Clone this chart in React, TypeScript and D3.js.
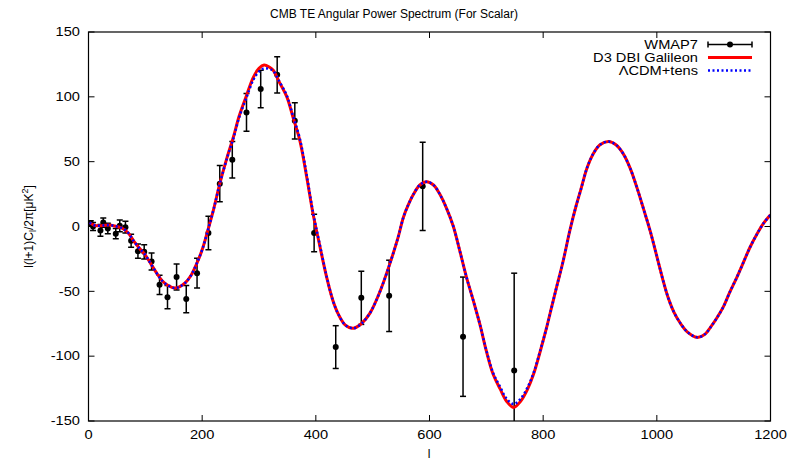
import React from "react";
import * as d3 from "d3";

// ---- data ----
const wmapL = [4, 8, 21, 26, 34, 48, 55, 65, 75, 87, 98, 111, 125, 139, 155, 172, 191, 211, 231, 253, 278, 303, 332, 363, 397, 435, 480, 529, 588, 659, 749];
const wmapTE = [2.4, 0, -3, 3, -1.5, -5.5, 0.5, -0.5, -11, -19, -19.5, -27, -45, -54.5, -39, -56, -36, -5, 33, 51.5, 88, 106, 117, 81.5, -5, -93, -55, -53.5, 31, -85, -111];
const wmapErr = [2, 3, 4.5, 3.5, 4, 4, 4.5, 4.5, 5, 5.5, 5.5, 6.5, 7.5, 9, 10, 10.5, 11.5, 13, 14, 14, 14.5, 14.5, 14, 14, 14.5, 16.5, 20.5, 27.5, 34, 46, 75];

const modelL = [2, 10, 20, 30, 40, 50, 60, 70, 80, 90, 100, 110, 120, 130, 140, 152, 160, 170, 180, 190, 200, 210, 220, 231, 245, 255, 265, 278, 290, 300, 309, 318, 325, 335, 349, 360, 372, 384, 395, 407, 419, 430, 440, 452, 466, 480, 495, 513, 530, 545, 554, 563, 572, 583, 595, 607, 618, 630, 642, 654, 665, 677, 689, 700, 712, 724, 736, 748, 760, 772, 783, 795, 806, 815, 824, 835, 847, 858, 866, 877, 888, 900, 915, 928, 941, 953, 965, 977, 988, 1000, 1010, 1020, 1030, 1042, 1053, 1071, 1085, 1094, 1105, 1117, 1128, 1141, 1152, 1164, 1176, 1187, 1200];
const galileonTE = [3, 1, 0.5, 1, 1, 0, -1.5, -5, -11.5, -17, -22, -29, -36, -42, -45.5, -47.5, -46.5, -43.5, -38, -29, -18, -3, 13, 33, 55, 69, 85, 101, 115, 122, 124.5, 123, 120.5, 112, 100, 84, 66, 38, 10, -15, -39, -57, -68, -76, -78.5, -75, -67, -50, -29, -8, 7, 17, 25, 32, 34.5, 32, 25, 14, 0, -20, -39, -57, -76, -96, -114, -125, -135, -139.5, -135, -126, -114, -96, -78, -62, -46, -27, -3, 16, 28, 45, 56, 63, 65.5, 63, 56, 45, 30, 13, -3, -23, -40, -55, -66, -75, -81, -85.5, -83, -78, -71, -62, -51, -39, -28, -16, -6, 2, 9];
const lcdmTE = [3, 1, 0.5, 1, 1, 0, -1.5, -5, -11.5, -17, -22, -29, -36, -42, -45.5, -47.5, -46.5, -43.5, -38, -29, -18, -3, 13, 33, 54.5, 68, 84, 99.5, 113, 119.5, 122, 121.5, 120, 112.5, 101, 85, 67.5, 39.5, 11, -14, -38.5, -57, -68, -76, -78.5, -75, -67, -50, -29, -8, 7, 17, 25, 32, 34.5, 32, 25, 14, 0, -20, -39, -57, -76, -95.5, -113, -123.5, -133, -137, -133, -124.5, -113, -95.5, -78, -62, -46, -27, -3, 16, 28, 45, 56, 63, 65.5, 63, 56, 45, 30, 13, -3, -23, -40, -55, -66, -75, -81, -85.5, -83, -78, -71, -62, -51, -39, -28, -16, -6, 2, 9];

const xTicks = [0, 200, 400, 600, 800, 1000, 1200];
const yTicks = [-150, -100, -50, 0, 50, 100, 150];

const title = "CMB TE Angular Power Spectrum (For Scalar)";
const legendLabels = ["WMAP7", "D3 DBI Galileon", "\u039BCDM+tens"];

export default function App() {
  const W = 794, H = 464;
  const left = 88.5, right = 770.5, top = 32, bottom = 421;
  const x = d3.scaleLinear().domain([0, 1200]).range([left, right]);
  const y = d3.scaleLinear().domain([-150, 150]).range([bottom, top]);
  const font = "'Liberation Sans', Arial, Helvetica, sans-serif";
  const sx = 1.22;

  const line = d3.line<number>()
    .x((_, i) => x(modelL[i]))
    .y((d) => y(d))
    .curve(d3.curveCatmullRom.alpha(0.5));

  const tickLen = 6;
  const legX1 = 708, legX2 = 752, legTextX = 698;
  const legY = [44.5, 57.5, 70.5];

  return (
    <svg width={W} height={H} style={{ position: "absolute", left: 0, top: 0, background: "#fff" }} fontFamily={font}>
      <defs>
        <clipPath id="plotclip">
          <rect x={left} y={top} width={right - left} height={bottom - top} />
        </clipPath>
      </defs>
      <rect x={0} y={0} width={W} height={H} fill="#fff" />
      {/* title */}
      <text x={394} y={17.5} fontSize={12} textAnchor="middle" fill="#000">{title}</text>

      {/* ticks */}
      {xTicks.map((t) => (
        <g key={"xt" + t}>
          <line x1={x(t)} x2={x(t)} y1={bottom} y2={bottom - tickLen} stroke="#000" strokeWidth={1} />
          <line x1={x(t)} x2={x(t)} y1={top} y2={top + tickLen} stroke="#000" strokeWidth={1} />
          <g transform={`translate(${x(t)},439) scale(${sx},1)`}>
            <text x={0} y={0} fontSize={12} textAnchor="middle" fill="#000">{t}</text>
          </g>
        </g>
      ))}
      {yTicks.map((t) => (
        <g key={"yt" + t}>
          <line x1={left} x2={left + tickLen} y1={y(t)} y2={y(t)} stroke="#000" strokeWidth={1} />
          <line x1={right} x2={right - tickLen} y1={y(t)} y2={y(t)} stroke="#000" strokeWidth={1} />
          <g transform={`translate(80,${y(t) + 4.3}) scale(${sx},1)`}>
            <text x={0} y={0} fontSize={12} textAnchor="end" fill="#000">{t}</text>
          </g>
        </g>
      ))}

      {/* axis labels */}
      <text x={429} y={458} fontSize={12} textAnchor="middle" fill="#000">l</text>
      <text transform={`translate(33,${(top + bottom) / 2}) rotate(-90)`} fontSize={12} textAnchor="middle" fill="#000">
        l(l+1)C<tspan fontSize={9} dy={3}>l</tspan><tspan dy={-3}>/2π[μK</tspan><tspan fontSize={9} dy={-5}>2</tspan><tspan dy={5}>]</tspan>
      </text>

      {/* data */}
      <g clipPath="url(#plotclip)">
        {wmapL.map((l, i) => {
          const cx = x(l);
          const y1 = y(wmapTE[i] + wmapErr[i]);
          const y2 = y(wmapTE[i] - wmapErr[i]);
          return (
            <g key={"w" + i} stroke="#000" strokeWidth={1.5}>
              <line x1={cx} x2={cx} y1={y1} y2={y2} />
              <line x1={cx - 3} x2={cx + 3} y1={y1} y2={y1} />
              <line x1={cx - 3} x2={cx + 3} y1={y2} y2={y2} />
              <circle cx={cx} cy={y(wmapTE[i])} r={3} fill="#000" stroke="none" />
            </g>
          );
        })}
        <path d={line(galileonTE) || ""} fill="none" stroke="#ff0000" strokeWidth={3} />
        <path d={line(lcdmTE) || ""} fill="none" stroke="#0000ff" strokeWidth={2.5} strokeDasharray="2 2.5" />
      </g>

      {/* frame */}
      <rect x={left} y={top} width={right - left} height={bottom - top} fill="none" stroke="#000" strokeWidth={1.2} />

      {/* legend */}
      {legendLabels.map((lab, i) => (
        <g key={"lg" + i} transform={`translate(${legTextX},${legY[i] + 4.3}) scale(${sx},1)`}>
          <text x={0} y={0} fontSize={12} textAnchor="end" fill="#000">{lab}</text>
        </g>
      ))}
      <g stroke="#000" strokeWidth={1.5}>
        <line x1={legX1} x2={legX2} y1={legY[0]} y2={legY[0]} />
        <line x1={legX1} x2={legX1} y1={legY[0] - 3} y2={legY[0] + 3} />
        <line x1={legX2} x2={legX2} y1={legY[0] - 3} y2={legY[0] + 3} />
        <circle cx={(legX1 + legX2) / 2} cy={legY[0]} r={3} fill="#000" stroke="none" />
      </g>
      <line x1={legX1} x2={legX2} y1={legY[1]} y2={legY[1]} stroke="#ff0000" strokeWidth={3} />
      <line x1={legX1} x2={legX2} y1={legY[2]} y2={legY[2]} stroke="#0000ff" strokeWidth={2.5} strokeDasharray="2 2.5" />
    </svg>
  );
}
